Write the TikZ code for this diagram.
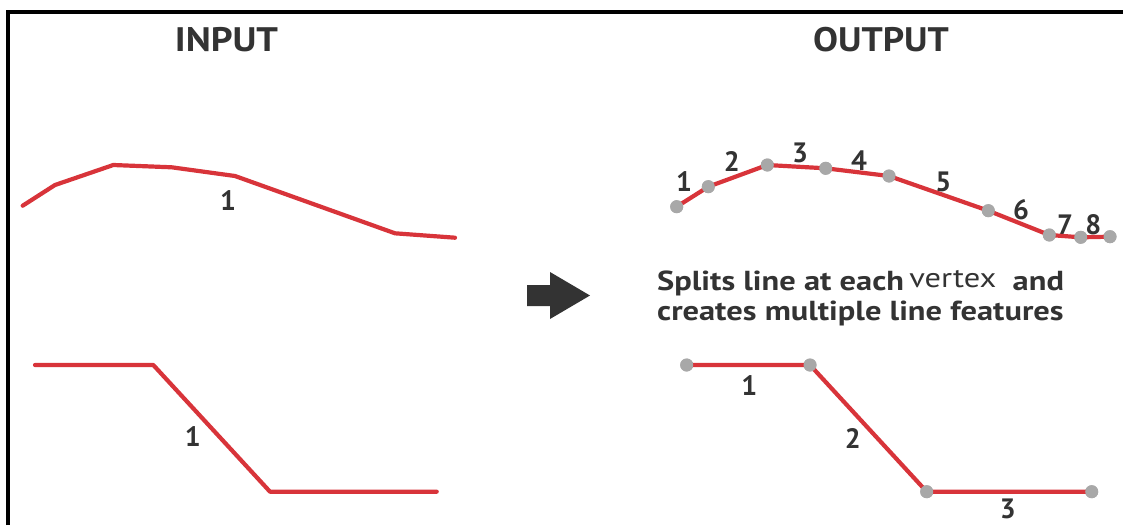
\documentclass[tikz,border=0pt]{standalone}
\usepackage{fontspec}
\setmainfont{PT Sans}
\begin{document}
\begin{tikzpicture}[x=1pt,y=-1pt,
  redline/.style={draw={rgb,255:red,216;green,52;blue,58}, line width=4.2pt, line join=round, line cap=round},
  vdot/.style={circle, fill={rgb,255:red,168;green,168;blue,168}, minimum size=13pt, inner sep=0pt},
  num/.style={font=\fontsize{28}{28}\selectfont\bfseries, text={rgb,255:red,51;green,51;blue,51}, inner sep=0pt},
  title/.style={font=\fontsize{34}{34}\selectfont\bfseries, text={rgb,255:red,51;green,51;blue,51}, inner sep=0pt},
  desc/.style={font=\fontsize{27.5}{30}\selectfont\bfseries, text={rgb,255:red,51;green,51;blue,51}, inner sep=0pt, align=left}]
\useasboundingbox (0,0) rectangle (1123,525);
% frame
\draw[line width=4.5pt] (8,525) -- (8,12) -- (1123,12);
% titles
\node[title] (tin) at (226.5,40) {\scalebox{1.12}[1]{INPUT}};
\node[title] (tout) at (881,40) {\scalebox{1.1}[1]{OUTPUT}};
% input curve
\coordinate (a1) at (22.7,205.7);
\coordinate (a2) at (55,185);
\coordinate (a3) at (113.3,165);
\coordinate (a4) at (171.7,167.3);
\coordinate (a5) at (235,176);
\coordinate (a6) at (395,233.3);
\coordinate (a7) at (455,237.7);
\draw[redline] (a1) -- (a2) -- (a3) -- (a4) -- (a5) -- (a6) -- (a7);
\node[num] (la) at (228,201) {1};
% input step line
\coordinate (b1) at (35,365);
\coordinate (b2) at (153.3,365);
\coordinate (b3) at (270,491.7);
\coordinate (b4) at (436.7,491.7);
\draw[redline] (b1) -- (b2) -- (b3) -- (b4);
\node[num] (lb) at (192.7,436.7) {1};
% arrow
\fill[fill={rgb,255:red,51;green,51;blue,51}] (527,285) -- (550,285) -- (550,272) -- (590,295.5) -- (550,319) -- (550,306) -- (527,306) -- cycle;
% description
\node[desc, anchor=base west] (d1) at (657,290) {\scalebox{1.18}[1]{Splits line at each\,\raisebox{3pt}{\mdseries vertex}\ \ and}};
\node[desc, anchor=base west] (d2) at (657,320) {\scalebox{1.18}[1]{creates multiple line features}};
% output curve
\node[vdot] (c1) at (676.7,206.7) {};
\node[vdot] (c2) at (708.3,186.7) {};
\node[vdot] (c3) at (767.3,165) {};
\node[vdot] (c4) at (825.7,168.3) {};
\node[vdot] (c5) at (889,176) {};
\node[vdot] (c6) at (988.3,210.7) {};
\node[vdot] (c7) at (1049.3,235) {};
\node[vdot] (c8) at (1080.7,237.3) {};
\node[vdot] (c9) at (1110,236.7) {};
\node[num] (l1) at (684,181.7) {1};
\node[num] (l2) at (731.7,161.7) {2};
\node[num] (l3) at (800,153.3) {3};
\node[num] (l4) at (859,160.7) {4};
\node[num] (l5) at (943.3,181.7) {5};
\node[num] (l6) at (1021,209.3) {6};
\node[num] (l7) at (1065,225) {7};
\node[num] (l8) at (1093.3,225) {8};
% output step line
\node[vdot] (e1) at (686.7,365) {};
\node[vdot] (e2) at (810,365) {};
\node[vdot] (e3) at (926.7,491.7) {};
\node[vdot] (e4) at (1091.7,491.7) {};
\node[num] (m1) at (749.3,385.7) {1};
\node[num] (m2) at (852.7,438.3) {2};
\node[num] (m3) at (1007.7,509.3) {3};
% red segments drawn between dot centres, then dots redrawn on top
\draw[redline] (c1.center) -- (c2.center) -- (c3.center) -- (c4.center) -- (c5.center) -- (c6.center) -- (c7.center) -- (c8.center) -- (c9.center);
\draw[redline] (e1.center) -- (e2.center) -- (e3.center) -- (e4.center);
\foreach \n in {c1,c2,c3,c4,c5,c6,c7,c8,c9,e1,e2,e3,e4}
  \fill[fill={rgb,255:red,168;green,168;blue,168}] (\n.center) circle (6.5pt);
\end{tikzpicture}
\end{document}
